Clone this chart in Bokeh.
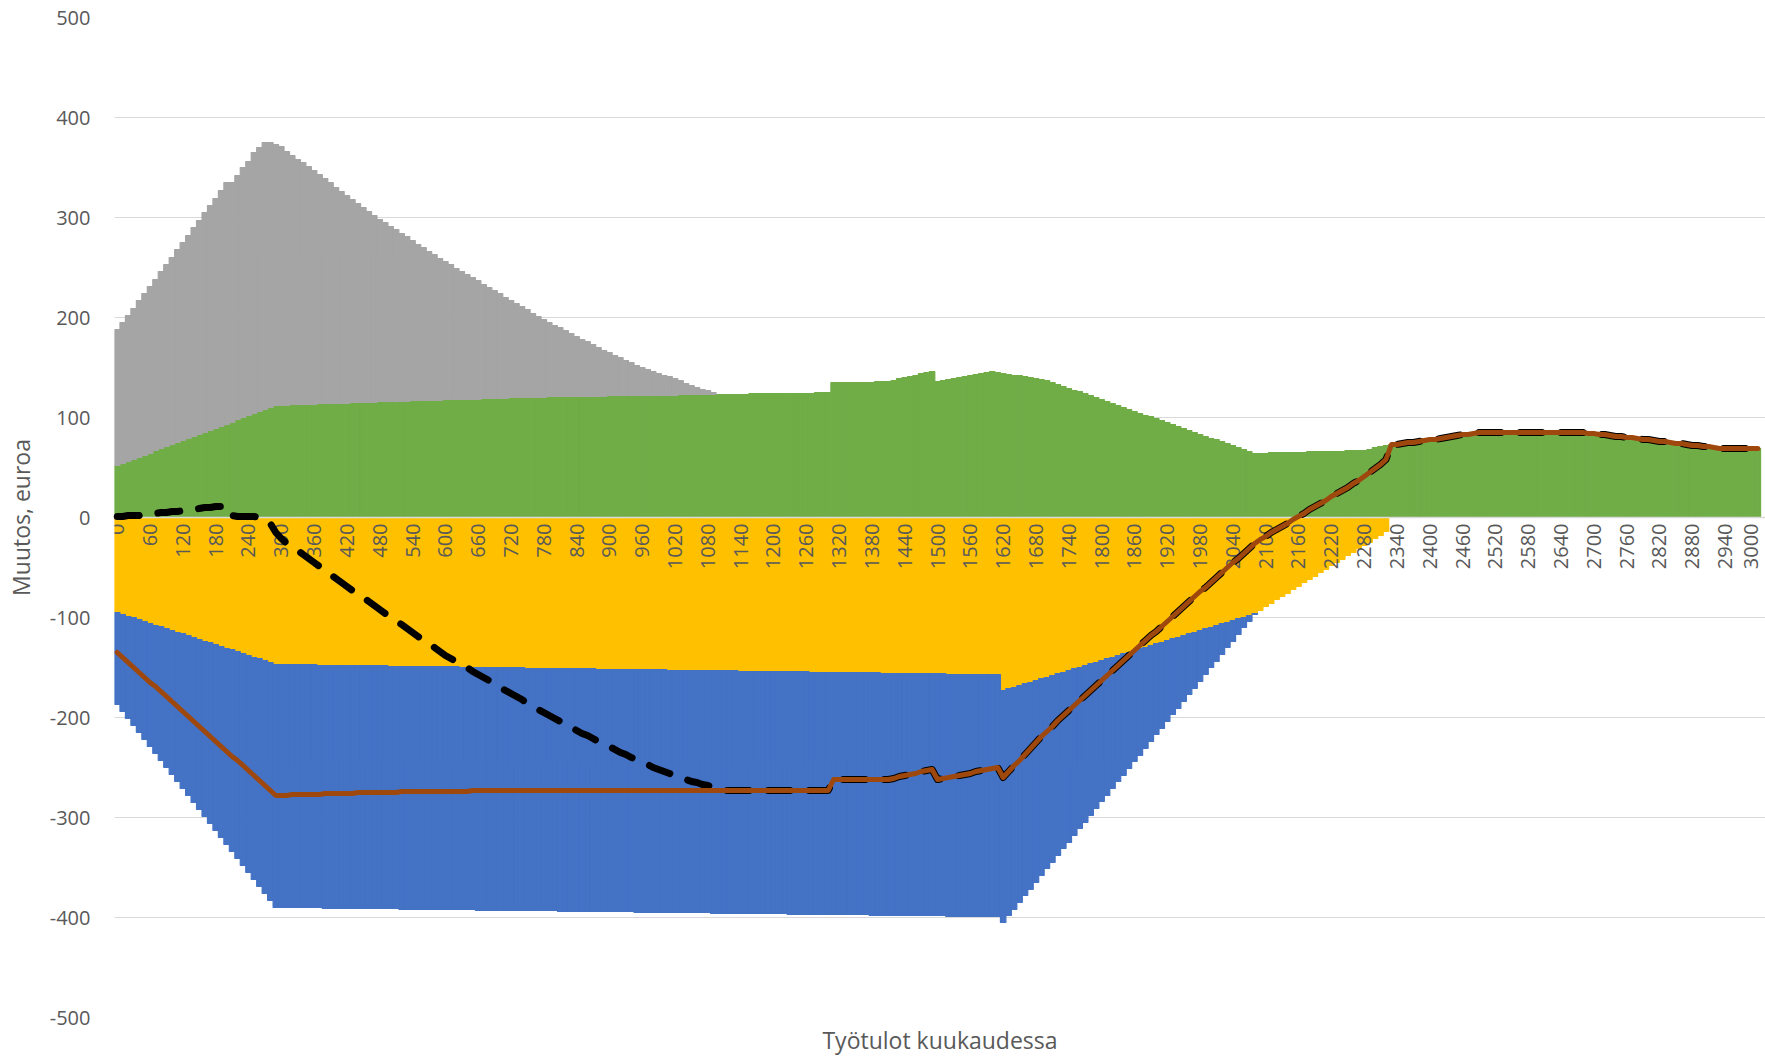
import numpy as np
from bokeh.plotting import figure
from bokeh.models import ColumnDataSource, Span, FixedTicker
from bokeh.core.properties import value
from bokeh.embed import file_html
from bokeh.resources import INLINE

# Categories: monthly earned income, 0 ... 3000 euros in steps of 10
income = list(range(0, 3001, 10))
tick_values = list(range(0, 3001, 60))
tick_labels = [str(v) for v in tick_values]
y_ticks = list(range(-500, 501, 100))

# Stacked column series, one row = 100 euros
green = (
    [52, 54, 56, 58, 60, 62, 64, 67, 69, 71]
    + [73, 75, 77, 79, 81, 83, 85, 87, 89, 91]
    + [93, 95, 98, 100, 102, 104, 106, 108, 110, 112]
    + [112, 112, 113, 113, 113, 113, 113, 114, 114, 114]
    + [114, 114, 114, 115, 115, 115, 115, 115, 116, 116]
    + [116, 116, 116, 116, 117, 117, 117, 117, 117, 117]
    + [118, 118, 118, 118, 118, 118, 118, 119, 119, 119]
    + [119, 119, 120, 120, 120, 120, 120, 120, 120, 121]
    + [121, 121, 121, 121, 121, 121, 121, 121, 121, 121]
    + [122, 122, 122, 122, 122, 122, 122, 122, 122, 122]
    + [122, 122, 122, 123, 123, 123, 123, 123, 123, 123]
    + [123, 123, 123, 123, 123, 123, 124, 124, 124, 124]
    + [124, 124, 124, 124, 124, 124, 124, 124, 125, 125]
    + [125, 135, 135, 135, 135, 135, 135, 135, 135, 136]
    + [136, 136, 137, 139, 140, 141, 142, 144, 145, 146]
    + [136, 137, 138, 139, 140, 141, 142, 143, 144, 145]
    + [146, 145, 144, 143, 142, 142, 141, 140, 139, 138]
    + [137, 135, 133, 131, 129, 127, 126, 124, 122, 120]
    + [118, 116, 114, 112, 110, 108, 106, 104, 102, 101]
    + [99, 97, 95, 93, 91, 89, 87, 85, 83, 81]
    + [79, 78, 76, 74, 72, 70, 68, 66, 64, 64]
    + [64, 65, 65, 65, 65, 65, 65, 65, 66, 66]
    + [66, 66, 66, 66, 66, 67, 67, 67, 67, 68]
    + [70, 71, 72, 73, 73, 74, 75, 75, 76, 77]
    + [78, 78, 79, 80, 81, 82, 83, 83, 84, 85]
    + [85, 85, 85, 85, 85, 85, 85, 85, 85, 85]
    + [85, 85, 85, 85, 85, 85, 85, 85, 85, 84]
    + [84, 83, 83, 82, 81, 81, 80, 80, 79, 78]
    + [78, 77, 76, 76, 75, 74, 74, 73, 72, 72]
    + [71, 71, 70, 69, 69, 69, 69, 69, 69, 69]
    + [69]
)

gray = (
    [136, 141, 146, 151, 157, 162, 167, 171, 177, 182]
    + [187, 193, 198, 203, 209, 214, 220, 225, 230, 236]
    + [242, 240, 244, 250, 254, 261, 264, 267, 265, 261]
    + [259, 254, 249, 245, 242, 238, 234, 229, 225, 221]
    + [216, 212, 208, 203, 199, 195, 191, 187, 182, 179]
    + [175, 172, 168, 165, 160, 156, 153, 149, 146, 142]
    + [138, 135, 131, 128, 125, 122, 119, 114, 111, 108]
    + [105, 101, 97, 94, 91, 88, 84, 81, 78, 74]
    + [71, 69, 66, 63, 60, 57, 55, 52, 49, 46]
    + [43, 40, 38, 35, 33, 30, 28, 26, 24, 22]
    + [20, 19, 17, 14, 11, 9, 7, 5, 4, 2]
    + [0] * 191
)

yellow = (
    [-95, -97, -99, -100, -102, -104, -106, -108, -109, -111]
    + [-113, -115, -116, -118, -120, -122, -124, -125, -127, -129]
    + [-131, -132, -134, -136, -138, -140, -141, -143, -145, -147]
    + [-147, -147, -147, -147, -147, -147, -147, -148, -148, -148]
    + [-148, -148, -148, -148, -148, -148, -148, -148, -148, -148]
    + [-149, -149, -149, -149, -149, -149, -149, -149, -149, -149]
    + [-149, -149, -149, -150, -150, -150, -150, -150, -150, -150]
    + [-150, -150, -150, -150, -150, -151, -151, -151, -151, -151]
    + [-151, -151, -151, -151, -151, -151, -151, -151, -152, -152]
    + [-152, -152, -152, -152, -152, -152, -152, -152, -152, -152]
    + [-152, -153, -153, -153, -153, -153, -153, -153, -153, -153]
    + [-153, -153, -153, -153, -154, -154, -154, -154, -154, -154]
    + [-154, -154, -154, -154, -154, -154, -154, -155, -155, -155]
    + [-155, -155, -155, -155, -155, -155, -155, -155, -155, -155]
    + [-156, -156, -156, -156, -156, -156, -156, -156, -156, -156]
    + [-156, -156, -157, -157, -157, -157, -157, -157, -157, -157]
    + [-157, -157, -173, -171, -170, -168, -166, -165, -163, -161]
    + [-160, -158, -156, -155, -153, -151, -150, -148, -146, -145]
    + [-143, -141, -140, -138, -136, -135, -133, -131, -130, -128]
    + [-126, -125, -123, -121, -120, -118, -116, -115, -113, -111]
    + [-110, -108, -106, -105, -103, -101, -100, -98, -96, -93]
    + [-89, -86, -82, -79, -76, -72, -69, -65, -62, -59]
    + [-55, -52, -48, -45, -42, -38, -35, -31, -28, -25]
    + [-21, -18, -14, 0, 0, 0, 0, 0, 0, 0]
    + [0] * 61
)

blue = (
    [-92, -97, -102, -108, -113, -118, -123, -128, -134, -139]
    + [-144, -149, -155, -160, -165, -170, -175, -181, -186, -191]
    + [-196, -202, -207, -212, -217, -222, -228, -233, -238, -243]
    + [-243, -243, -243, -243, -243, -243, -243, -242, -243, -243]
    + [-243, -243, -243, -243, -243, -243, -243, -243, -243, -243]
    + [-242, -242, -243, -243, -243, -243, -243, -243, -243, -243]
    + [-243, -243, -243, -242, -242, -242, -243, -243, -243, -243]
    + [-243, -243, -243, -243, -243, -242, -242, -242, -242, -242]
    + [-242, -243, -243, -243, -243, -243, -243, -243, -242, -242]
    + [-242, -242, -242, -242, -242, -243, -243, -243, -243, -243]
    + [-243, -242, -242, -242, -242, -242, -242, -242, -242, -243]
    + [-243, -243, -243, -243, -242, -242, -242, -242, -242, -242]
    + [-242, -242, -242, -243, -243, -243, -243, -242, -242, -242]
    + [-242, -242, -242, -242, -242, -242, -242, -242, -243, -243]
    + [-242, -242, -242, -242, -242, -242, -242, -242, -242, -242]
    + [-242, -242, -242, -242, -242, -242, -242, -242, -242, -242]
    + [-242, -242, -232, -227, -222, -217, -212, -207, -202, -197]
    + [-191, -187, -182, -176, -172, -167, -161, -157, -152, -146]
    + [-141, -137, -131, -126, -122, -116, -111, -107, -101, -96]
    + [-91, -86, -81, -76, -71, -66, -61, -56, -51, -46]
    + [-40, -36, -31, -25, -21, -16, -10, -6, -1, 0]
    + [0] * 91
)

# Line series
brown = (
    [-135, -140, -145, -150, -155, -160, -165, -169, -174, -179]
    + [-184, -189, -194, -199, -204, -209, -214, -219, -224, -229]
    + [-234, -239, -243, -248, -253, -258, -263, -268, -273, -278]
    + [-278, -278, -277, -277, -277, -277, -277, -277, -276, -276]
    + [-276, -276, -276, -276, -275, -275, -275, -275, -275, -275]
    + [-275, -275, -274, -274, -274, -274, -274, -274, -274, -274]
    + [-274, -274, -274, -274, -274, -273, -273, -273, -273, -273]
    + [-273, -273, -273, -273, -273, -273, -273, -273, -273, -273]
    + [-273, -273, -273, -273, -273, -273, -273, -273, -273, -273]
    + [-273, -273, -273, -273, -273, -273, -273, -273, -273, -273]
    + [-273, -273, -273, -273, -273, -273, -273, -273, -273, -273]
    + [-273, -273, -273, -273, -273, -273, -273, -273, -273, -273]
    + [-273, -273, -273, -273, -273, -273, -273, -273, -273, -273]
    + [-273, -262, -262, -262, -262, -262, -262, -262, -262, -262]
    + [-262, -262, -261, -259, -258, -257, -256, -254, -253, -252]
    + [-262, -261, -260, -259, -258, -257, -256, -254, -253, -252]
    + [-251, -250, -260, -254, -248, -243, -237, -231, -225, -219]
    + [-214, -209, -203, -198, -193, -188, -183, -178, -173, -168]
    + [-163, -158, -153, -148, -143, -138, -133, -128, -123, -118]
    + [-114, -109, -104, -99, -94, -89, -84, -79, -74, -70]
    + [-65, -60, -55, -50, -45, -41, -36, -31, -26, -22]
    + [-19, -15, -12, -9, -6, -2, 1, 4, 8, 11]
    + [14, 17, 21, 24, 27, 30, 34, 37, 41, 45]
    + [49, 53, 58, 73, 73, 74, 75, 75, 76, 77]
    + [78, 78, 79, 80, 81, 82, 83, 83, 84, 85]
    + [85, 85, 85, 85, 85, 85, 85, 85, 85, 85]
    + [85, 85, 85, 85, 85, 85, 85, 85, 85, 84]
    + [84, 83, 83, 82, 81, 81, 80, 80, 79, 78]
    + [78, 77, 76, 76, 75, 74, 74, 73, 72, 72]
    + [71, 71, 70, 69, 69, 69, 69, 69, 69, 69]
    + [69]
)

dashed_head = (
    [1, 1, 2, 2, 2, 3, 4, 4, 5, 5]
    + [6, 6, 7, 7, 8, 9, 10, 10, 11, 11]
    + [12, 2, 1, 1, 1, 1, 0, -1, -6, -15]
    + [-21, -26, -30, -33, -37, -41, -45, -49, -53, -57]
    + [-61, -65, -69, -73, -77, -80, -84, -88, -92, -96]
    + [-100, -104, -107, -111, -115, -119, -123, -126, -130, -134]
    + [-138, -141, -144, -147, -150, -154, -157, -160, -163, -166]
    + [-170, -173, -176, -179, -182, -186, -189, -192, -195, -198]
    + [-201, -204, -207, -210, -213, -216, -218, -221, -224, -227]
    + [-229, -232, -235, -237, -240, -242, -245, -247, -250, -252]
    + [-254, -256, -258, -260, -262, -264, -265, -267, -268, -270]
    + [-272]
)
# from 1110 on the dashed line runs on the brown line
dashed = dashed_head + brown[len(dashed_head):]

for arr in (green, gray, yellow, blue, brown, dashed):
    assert len(arr) == len(income), len(arr)


def bars(a):
    return np.array([np.nan if v == 0 else float(v) for v in a])


src = ColumnDataSource(dict(x=income, green=bars(green), gray=bars(gray),
                            yellow=bars(yellow), blue=bars(blue)))

FONT = "Open Sans"
TXT = "#595959"

p = figure(width=1765, height=1058, x_range=(-5, 3014), y_range=(-500, 500),
           output_backend="svg", toolbar_location=None,
           min_border_left=114, min_border_right=0, min_border_top=17,
           min_border_bottom=38, background_fill_color="white")
p.outline_line_color = None
p.xgrid.visible = False

# y axis
yt = FixedTicker(ticks=y_ticks)
p.yaxis.ticker = yt
p.ygrid.ticker = yt
p.yaxis.major_label_overrides = {v: str(v) for v in y_ticks}
p.ygrid.grid_line_color = "#D9D9D9"
p.ygrid.grid_line_width = 1.2
p.yaxis.axis_line_color = None
p.yaxis.major_tick_line_color = None
p.yaxis.minor_tick_line_color = None
p.yaxis.major_tick_out = 0
p.yaxis.major_tick_in = 0
p.yaxis.minor_tick_out = 0
p.yaxis.major_label_standoff = 24
p.yaxis.major_label_text_font = FONT
p.yaxis.major_label_text_font_size = "20px"
p.yaxis.major_label_text_color = TXT
p.yaxis.axis_label = "Muutos, euroa"
p.yaxis.axis_label_text_font = FONT
p.yaxis.axis_label_text_font_size = "23px"
p.yaxis.axis_label_text_font_style = "normal"
p.yaxis.axis_label_text_color = TXT
p.yaxis.axis_label_standoff = 10

# x axis: only its title; category labels sit at the zero line (see below)
p.xaxis.ticker = FixedTicker(ticks=[])
p.xaxis.axis_line_color = None
p.xaxis.major_tick_line_color = None
p.xaxis.minor_tick_line_color = None
p.xaxis.major_tick_out = 0
p.xaxis.major_tick_in = 0
p.xaxis.minor_tick_out = 0
p.xaxis.major_label_standoff = 0
p.xaxis.axis_label = "Työtulot kuukaudessa"
p.xaxis.axis_label_text_font = FONT
p.xaxis.axis_label_text_font_size = "23px"
p.xaxis.axis_label_text_font_style = "normal"
p.xaxis.axis_label_text_color = TXT
p.xaxis.axis_label_standoff = 6

p.vbar_stack(["green", "gray"], x="x", width=10, color=["#70AD47", "#A5A5A5"],
             line_width=1.2, source=src)
p.vbar_stack(["yellow", "blue"], x="x", width=10, color=["#FFC000", "#4472C4"],
             line_width=1.2, source=src)

# category labels next to the horizontal axis (which crosses at 0);
# the last one is nudged inwards so that it stays inside the canvas
label_shift = [0] * (len(tick_values) - 1) + [-7]
p.text(x=tick_values, y=[0] * len(tick_values), text=tick_labels, angle=np.pi / 2,
       text_align="right", text_baseline="middle", text_font=value(FONT),
       text_font_size="20px", text_color=TXT, y_offset=6, x_offset=label_shift)

p.add_layout(Span(location=0, dimension="width", line_color="#D9D9D9", line_width=1.5))

r1 = p.line(income, dashed, line_color="black", line_width=7, line_dash="22 19",
            line_cap="round", line_join="round")
r1.level = "overlay"
r2 = p.line(income, brown, line_color="#9E480E", line_width=5, line_join="round",
            line_cap="round")
r2.level = "overlay"

open("out.html", "w").write(file_html(p, INLINE))
